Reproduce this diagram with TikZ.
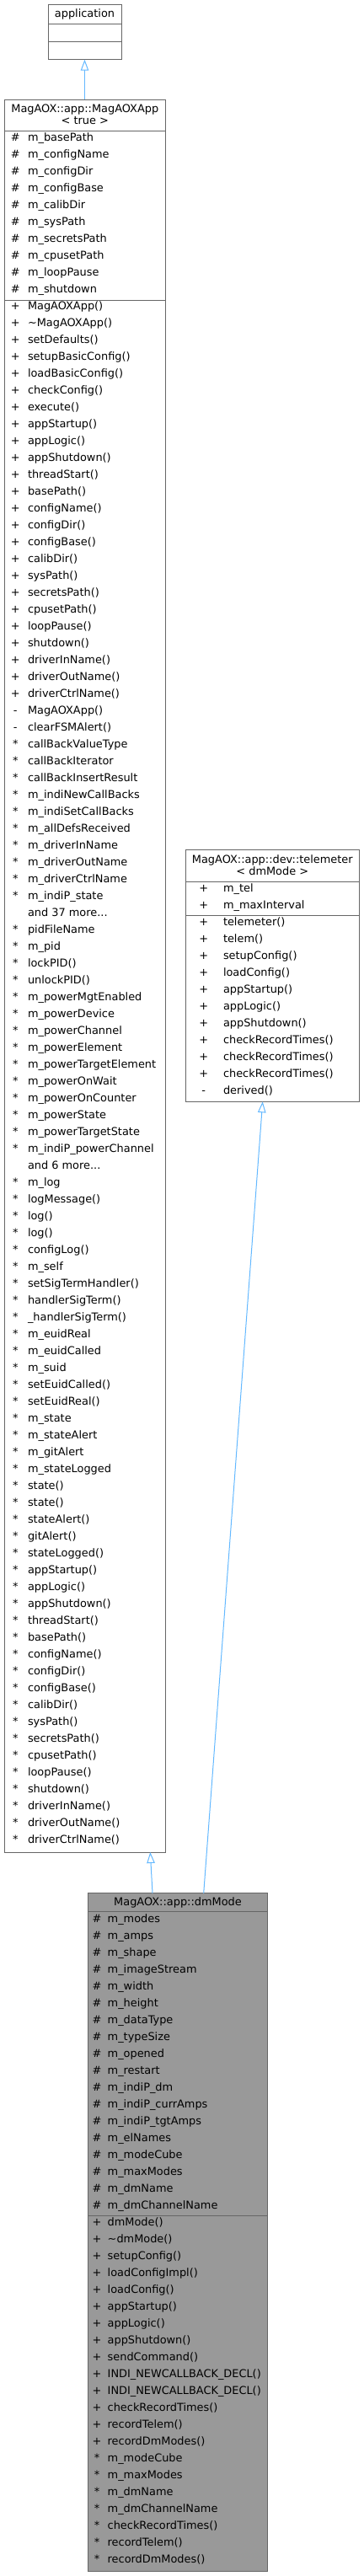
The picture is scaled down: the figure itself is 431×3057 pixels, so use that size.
\documentclass[tikz,border=0pt]{standalone}
\usepackage{fontspec}
\setmainfont{DejaVu Sans}
\usetikzlibrary{arrows.meta}
\definecolor{edgeblue}{HTML}{63B8FF}
\definecolor{boxline}{HTML}{666666}
\definecolor{curfill}{HTML}{999999}
\newcommand\mydots{...}
% #1 prefix, #2 symbol x, #3 text x, #4 first row y, #5 list sym/text
\newcommand\classmembers[5]{%
  \foreach \vsym/\vtxt [count=\i from 0] in {#5} {
    \node[symtext] (#1s\i) at (#2, #4+20*\i) {\vsym};
    \node[memtext] (#1t\i) at (#3, #4+20*\i) {\vtxt};
  }%
}
\begin{document}
\begin{tikzpicture}[x=1pt,y=-1pt,
  every node/.style={font=\fontsize{12.9}{15}\selectfont, inner sep=0pt, outer sep=0pt},
  classbox/.style={draw=boxline, line width=1pt, fill=white, anchor=north west, inner sep=0pt, outer sep=0pt},
  curbox/.style={classbox, fill=curfill},
  sepline/.style={draw=boxline, line width=1pt},
  symtext/.style={anchor=mid},
  memtext/.style={anchor=mid west},
  headtext/.style={anchor=mid},
  inh/.style={draw=edgeblue, line width=1pt, -{Triangle[length=13pt,width=9.5pt,fill=white]}}
]
\useasboundingbox (0,0) rectangle (431,3057);

% ---------- application ----------
\node[classbox, minimum width=87pt, minimum height=65.7pt] (application) at (57,5) {};
\draw[sepline] (application.west |- 0,28.7) -- (application.east |- 0,28.7);
\draw[sepline] (application.west |- 0,49) -- (application.east |- 0,49);
\node[headtext] (applicationhead) at (100.5,17.3) {application};

% ---------- MagAOXApp<true> ----------
\node[classbox, minimum width=191pt, minimum height=2080pt] (magaox) at (5,118) {};
\draw[sepline] (magaox.west |- 0,155.3) -- (magaox.east |- 0,155.3);
\draw[sepline] (magaox.west |- 0,356) -- (magaox.east |- 0,356);
\node[headtext] (magaoxhead1) at (100.8,131) {MagAOX::app::MagAOXApp};
\node[headtext] (magaoxhead2) at (100.8,144.5) {< true >};
\classmembers{mxa}{18.3}{33}{165}{
  \#/m\_basePath, \#/m\_configName, \#/m\_configDir, \#/m\_configBase, \#/m\_calibDir,
  \#/m\_sysPath, \#/m\_secretsPath, \#/m\_cpusetPath, \#/m\_loopPause, \#/m\_shutdown}
\classmembers{mxm}{18.3}{33}{365}{
  +/MagAOXApp(), +/\textasciitilde{}MagAOXApp(), +/setDefaults(), +/setupBasicConfig(),
  +/loadBasicConfig(), +/checkConfig(), +/execute(), +/appStartup(), +/appLogic(),
  +/appShutdown(), +/threadStart(), +/basePath(), +/configName(), +/configDir(),
  +/configBase(), +/calibDir(), +/sysPath(), +/secretsPath(), +/cpusetPath(),
  +/loopPause(), +/shutdown(), +/driverInName(), +/driverOutName(), +/driverCtrlName(),
  -/MagAOXApp(), -/clearFSMAlert(),
  */callBackValueType, */callBackIterator, */callBackInsertResult, */m\_indiNewCallBacks,
  */m\_indiSetCallBacks, */m\_allDefsReceived, */m\_driverInName, */m\_driverOutName,
  */m\_driverCtrlName, */m\_indiP\_state, /and 37 more\mydots,
  */pidFileName, */m\_pid, */lockPID(), */unlockPID(),
  */m\_powerMgtEnabled, */m\_powerDevice, */m\_powerChannel, */m\_powerElement,
  */m\_powerTargetElement, */m\_powerOnWait, */m\_powerOnCounter, */m\_powerState,
  */m\_powerTargetState, */m\_indiP\_powerChannel, /and 6 more\mydots,
  */m\_log, */logMessage(), */log(), */log(), */configLog(),
  */m\_self, */setSigTermHandler(), */handlerSigTerm(), */\_handlerSigTerm(),
  */m\_euidReal, */m\_euidCalled, */m\_suid, */setEuidCalled(), */setEuidReal(),
  */m\_state, */m\_stateAlert, */m\_gitAlert, */m\_stateLogged, */state(), */state(),
  */stateAlert(), */gitAlert(), */stateLogged(),
  */appStartup(), */appLogic(), */appShutdown(), */threadStart(), */basePath(),
  */configName(), */configDir(), */configBase(), */calibDir(), */sysPath(),
  */secretsPath(), */cpusetPath(), */loopPause(), */shutdown(), */driverInName(),
  */driverOutName(), */driverCtrlName()}

% ---------- telemeter<dmMode> ----------
\node[classbox, minimum width=205.3pt, minimum height=298.6pt] (telem) at (220.7,1008.7) {};
\draw[sepline] (telem.west |- 0,1046) -- (telem.east |- 0,1046);
\draw[sepline] (telem.west |- 0,1086.7) -- (telem.east |- 0,1086.7);
\node[headtext] (telemhead1) at (323.3,1021.7) {MagAOX::app::dev::telemeter};
\node[headtext] (telemhead2) at (323.3,1035.7) {< dmMode >};
\classmembers{tla}{241.7}{265}{1055.7}{+/m\_tel, +/m\_maxInterval}
\classmembers{tlm}{241.7}{265}{1095.7}{
  +/telemeter(), +/telem(), +/setupConfig(), +/loadConfig(), +/appStartup(),
  +/appLogic(), +/appShutdown(), +/checkRecordTimes(), +/checkRecordTimes(),
  +/checkRecordTimes(), -/derived()}

% ---------- dmMode ----------
\node[curbox, minimum width=213.4pt, minimum height=805pt] (dm) at (104.3,2246.7) {};
\draw[sepline] (dm.west |- 0,2268.7) -- (dm.east |- 0,2268.7);
\draw[sepline] (dm.west |- 0,2629.3) -- (dm.east |- 0,2629.3);
\node[headtext] (dmhead) at (211,2258.3) {MagAOX::app::dmMode};
\classmembers{dma}{115}{127.7}{2278.3}{
  \#/m\_modes, \#/m\_amps, \#/m\_shape, \#/m\_imageStream, \#/m\_width, \#/m\_height,
  \#/m\_dataType, \#/m\_typeSize, \#/m\_opened, \#/m\_restart, \#/m\_indiP\_dm,
  \#/m\_indiP\_currAmps, \#/m\_indiP\_tgtAmps, \#/m\_elNames, \#/m\_modeCube,
  \#/m\_maxModes, \#/m\_dmName, \#/m\_dmChannelName}
\classmembers{dmm}{115}{127.7}{2638.3}{
  +/dmMode(), +/\textasciitilde{}dmMode(), +/setupConfig(), +/loadConfigImpl(),
  +/loadConfig(), +/appStartup(), +/appLogic(), +/appShutdown(), +/sendCommand(),
  +/INDI\_NEWCALLBACK\_DECL(), +/INDI\_NEWCALLBACK\_DECL(), +/checkRecordTimes(),
  +/recordTelem(), +/recordDmModes(), */m\_modeCube, */m\_maxModes, */m\_dmName,
  */m\_dmChannelName, */checkRecordTimes(), */recordTelem(), */recordDmModes()}

% ---------- inheritance edges ----------
\coordinate (dmtomx) at (181,2246.7);
\coordinate (mxfromdm) at (178.3,2198);
\coordinate (dmtotl) at (241.7,2246.7);
\coordinate (tlfromdm) at (311.7,1307.3);
\draw[inh] (magaox.north) -- (application.south);
\draw[inh] (dmtomx) -- (mxfromdm);
\draw[inh] (dmtotl) -- (tlfromdm);
\end{tikzpicture}
\end{document}
